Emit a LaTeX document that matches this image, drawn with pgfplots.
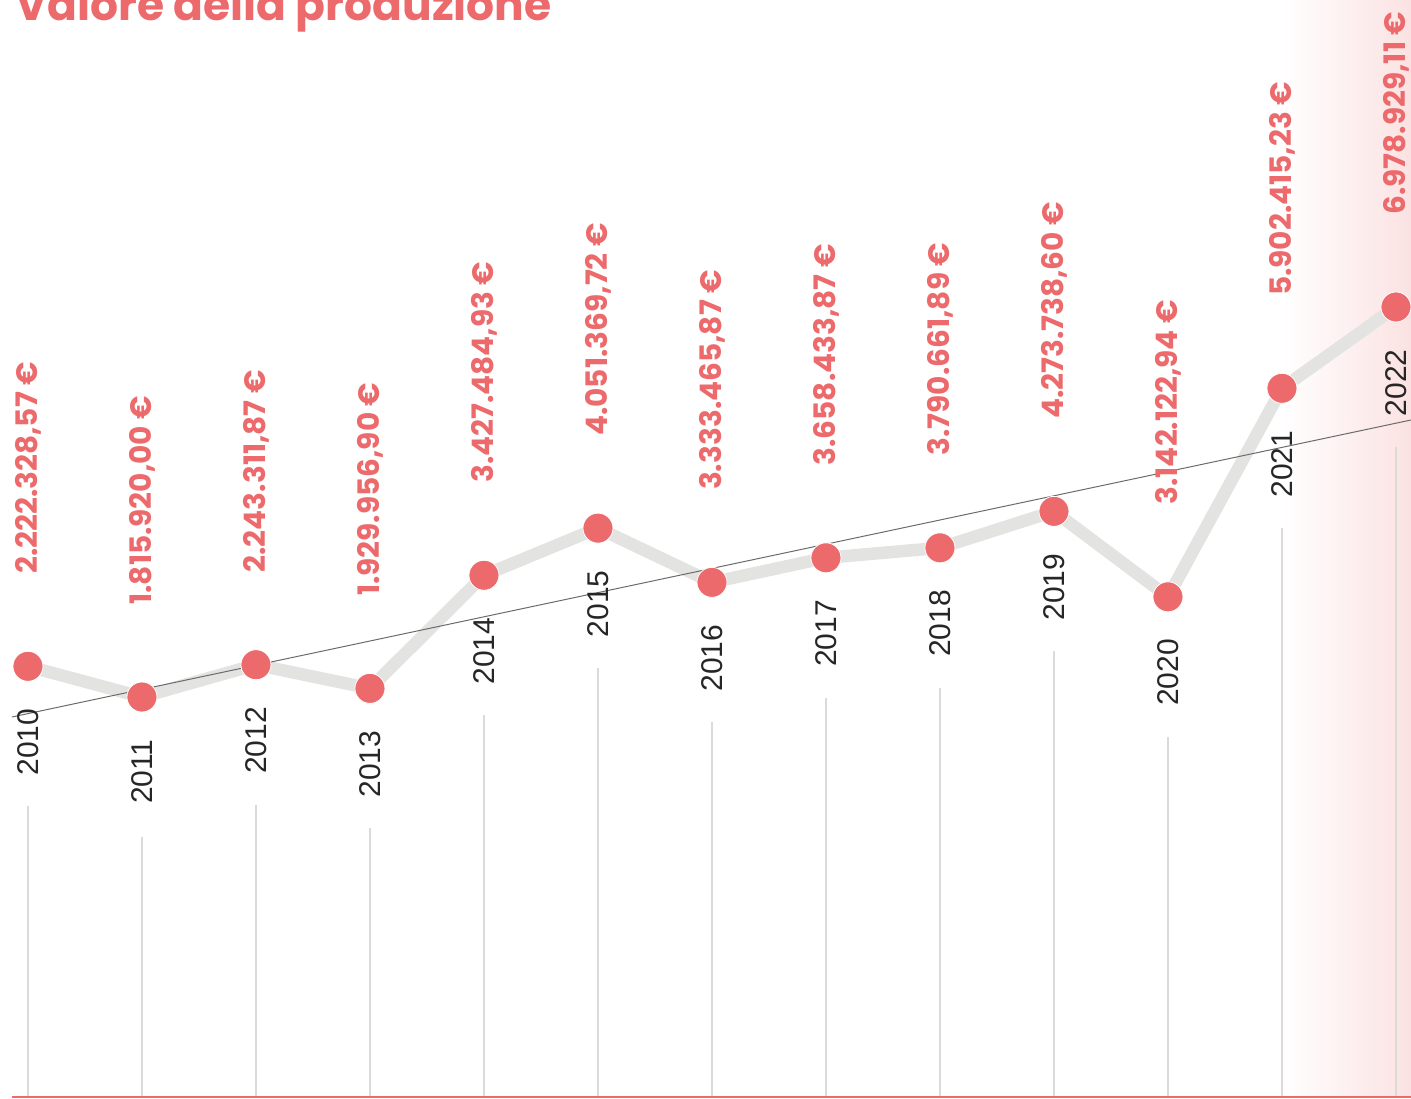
\documentclass[border=0pt]{standalone}
\usepackage{pgfplots}
\pgfplotsset{compat=1.18}
\usepackage{pgfplotstable}
\usepackage{fontspec}
\setmainfont{Liberation Sans}
\newfontfamily\pop{Poppins}

\definecolor{rosso}{HTML}{EC6A6C}
\definecolor{grigio}{HTML}{E3E3E1}
\definecolor{vline}{HTML}{DADADA}
\definecolor{trend}{HTML}{6B6B6B}
\definecolor{rosa}{HTML}{FBE2E2}

% valori annui (euro) e etichette
\pgfplotstableread[col sep=semicolon, row sep=\\]{
year;value;label\\
2010;2222328.57;2.222.328,57 €\\
2011;1815920.00;1.815.920,00 €\\
2012;2243311.87;2.243.311,87 €\\
2013;1929956.90;1.929.956,90 €\\
2014;3427484.93;3.427.484,93 €\\
2015;4051369.72;4.051.369,72 €\\
2016;3333465.87;3.333.465,87 €\\
2017;3658433.87;3.658.433,87 €\\
2018;3790661.89;3.790.661,89 €\\
2019;4273738.60;4.273.738,60 €\\
2020;3142122.94;3.142.122,94 €\\
2021;5902415.23;5.902.415,23 €\\
2022;6978929.11;6.978.929,11 €\\
}\datatable

\begin{document}
\begin{tikzpicture}
\begin{axis}[
    name=ax,
    scale only axis,
    width=699.5pt,
    height=548.5pt,
    xmin=2009.86, xmax=2022.132,
    ymin=-3479280, ymax=11042820,
    hide axis,
    clip=false,
]

% sfondo sfumato a destra
\fill[left color=white, right color=rosa, draw=none]
    (axis cs:2021.0,-3479280) rectangle (axis cs:2022.132,12500000);

% linee verticali sotto le etichette degli anni
\addplot[draw=none, mark=none,
    error bars/.cd, y dir=minus, y explicit,
    error mark=none,
    error bar style={color=vline, line width=1pt}]
    table[x=year, y expr=\thisrow{value}-1853300,
          y error expr=\thisrow{value}-1853300+3479280] {\datatable};

% linea base
\draw[rosso, line width=1pt] (rel axis cs:0,0) -- (rel axis cs:1,0);

% andamento
\addplot[grigio, line width=6.25pt, line join=round, mark=none]
    table[x=year, y=value] {\datatable};

% linea di tendenza
\addplot[trend, line width=0.5pt, mark=none]
    coordinates {(2009.86,1551160) (2022.132,5482850)};

% punti con valori
\addplot[draw=none, mark=*, mark size=7.5pt,
    mark options={fill=rosso, draw=white, line width=0.4pt},
    point meta=explicit symbolic,
    nodes near coords={\hspace*{46pt}\pgfplotspointmeta},
    every node near coord/.style={font=\pop\bfseries\fontsize{14.8}{17}\selectfont,
        color=rosso, rotate=90, anchor=west, inner sep=0pt}]
    table[x=year, y=value, meta=label] {\datatable};

% anni
\addplot[draw=none, mark=none,
    point meta=explicit symbolic,
    nodes near coords={\pgfplotspointmeta\hspace*{21pt}},
    every node near coord/.style={font=\fontsize{15}{17}\selectfont,
        color=black!85, rotate=90, anchor=east, inner sep=0pt}]
    table[x=year, y=value, meta=year] {\datatable};

\end{axis}

\node[anchor=base west, inner sep=0pt, font=\pop\bfseries\fontsize{22}{26}\selectfont,
    color=rosso] at ([xshift=1.5pt, yshift=-10.5pt]ax.north west)
    {Valore della produzione};

\pgfresetboundingbox
\useasboundingbox ([xshift=-6pt, yshift=-0.5pt]ax.south west) rectangle (ax.north east);
\end{tikzpicture}
\end{document}
